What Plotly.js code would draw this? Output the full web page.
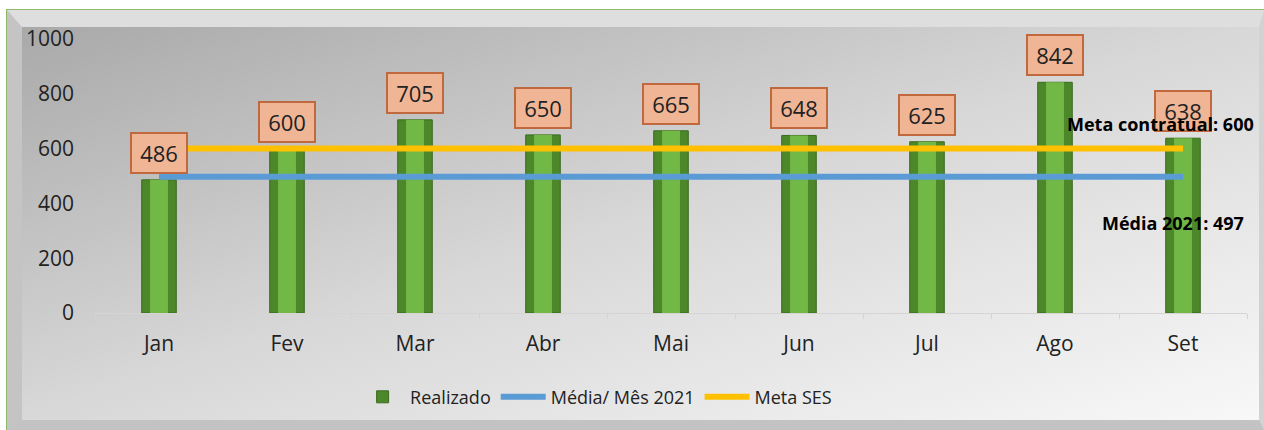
<!DOCTYPE html>
<html>
<head>
<meta charset="utf-8">
<script src="https://cdn.plot.ly/plotly-3.0.1.min.js"></script>
<style>
  html, body { margin: 0; padding: 0; background: #ffffff; }
  #wrap { position: relative; width: 1264px; height: 430px; overflow: hidden; }
  #frame { position: absolute; left: 6px; top: 9px; width: 1258px; height: 421px;
           border-top: 1px solid #8dbb6a; border-left: 1px solid #8dbb6a; box-sizing: border-box; }
  #bevel { position: absolute; left: 0; top: 0; right: 0; bottom: 0; box-sizing: border-box;
           border-top: 17px solid #dedede; border-left: 15px solid #c4c4c4;
           border-right: 5px solid #d2d2d2; border-bottom: 10px solid #c3c3c3;
           background: linear-gradient(to bottom right, #a9a9a9 0%, #d8d8d8 50%, #f8f8f8 100%); }
  #chart { position: absolute; left: 0; top: 0; width: 1264px; height: 430px; }
</style>
</head>
<body>
<div id="wrap">
  <div id="frame"><div id="bevel"></div></div>
  <div id="chart"></div>
</div>
<script>
const months = ["Jan", "Fev", "Mar", "Abr", "Mai", "Jun", "Jul", "Ago", "Set"];
const realizado = [486, 600, 705, 650, 665, 648, 625, 842, 638];
const mediaMes2021 = [497, 497, 497, 497, 497, 497, 497, 497, 497];
const metaSES = [600, 600, 600, 600, 600, 600, 600, 600, 600];
const yTicks = [0, 200, 400, 600, 800, 1000];
const metaLabel = "Meta contratual: 600";
const mediaLabel = "Média 2021: 497";

const font = "Open Sans, Noto Sans, sans-serif";

const traces = [
  { type: "bar", name: "Realizado", x: months, y: realizado, width: 0.27,
    marker: { color: "#4c8829", line: { color: "#3a6a1e", width: 1 } } },
  { type: "bar", name: "Realizado", x: months, y: realizado, width: 0.14, showlegend: false,
    hoverinfo: "skip", marker: { color: "#72b846", line: { width: 0 } } },
  { type: "scatter", mode: "lines", name: "Média/ Mês 2021", x: months, y: mediaMes2021,
    line: { color: "#5b9bd5", width: 6 } },
  { type: "scatter", mode: "lines", name: "Meta SES", x: months, y: metaSES,
    line: { color: "#ffc000", width: 6 } }
];

const annotations = months.map((m, i) => ({
  x: m, y: realizado[i], xref: "x", yref: "y", text: String(realizado[i]),
  showarrow: false, xanchor: "center", yanchor: "bottom", yshift: 6, width: 52, height: 36,
  bgcolor: "#f0b595", bordercolor: "#c0683e", borderwidth: 2,
  font: { family: font, size: 22, color: "#222222" }
}));
annotations.push({ xref: "paper", yref: "paper", x: 0.925, y: 0.69, xanchor: "center", yanchor: "middle",
  text: "<b>" + metaLabel + "</b>", showarrow: false, font: { family: font, size: 18, color: "#000000" } });
annotations.push({ xref: "paper", yref: "paper", x: 0.936, y: 0.328, xanchor: "center", yanchor: "middle",
  text: "<b>" + mediaLabel + "</b>", showarrow: false, font: { family: font, size: 18, color: "#000000" } });

const layout = {
  width: 1264, height: 430,
  margin: { l: 95, r: 17, t: 39, b: 117 },
  paper_bgcolor: "rgba(0,0,0,0)", plot_bgcolor: "rgba(0,0,0,0)",
  barmode: "overlay",
  showlegend: true,
  legend: { orientation: "h", x: 0.435, xanchor: "center", y: -0.307, yanchor: "middle",
    itemwidth: 45, entrywidthmode: "pixels",
    font: { family: font, size: 18, color: "#222222" }, bgcolor: "rgba(0,0,0,0)", traceorder: "normal" },
  xaxis: { type: "category", range: [-0.5, 8.5], showline: true, linecolor: "#d4d4d4", linewidth: 1,
    ticks: "outside", tickson: "boundaries", ticklen: 5, tickcolor: "#d4d4d4",
    showgrid: false, zeroline: false, ticklabelstandoff: 12,
    tickfont: { family: font, size: 21, color: "#222222" } },
  yaxis: { range: [0, 1000], tickvals: yTicks, showgrid: false, zeroline: false, showline: false,
    ticklabelstandoff: 20, tickfont: { family: font, size: 21, color: "#222222" } },
  annotations: annotations
};

Plotly.newPlot("chart", traces, layout, { displayModeBar: false, staticPlot: true });
</script>
</body>
</html>
